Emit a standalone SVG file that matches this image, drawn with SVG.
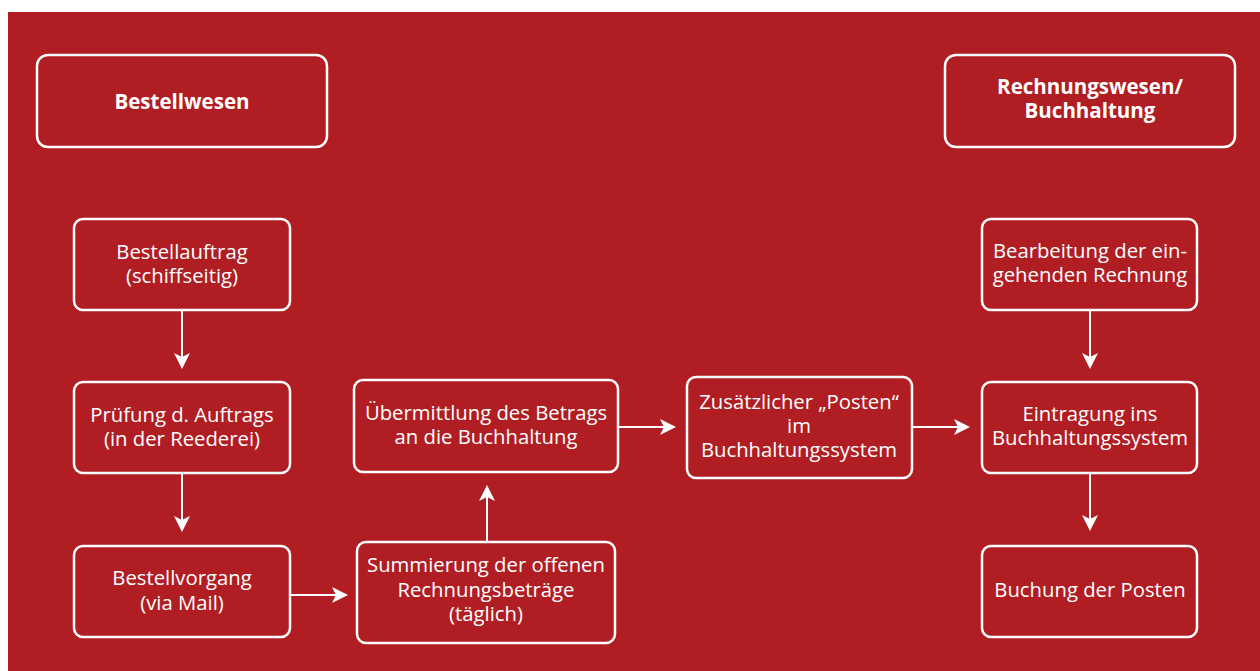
<svg xmlns="http://www.w3.org/2000/svg" width="1260" height="671" viewBox="0 0 1260 671">
<defs>
<style>
.box{fill:none;stroke:#ffffff;stroke-width:2.5}
.t{font-family:"Open Sans","Liberation Sans",sans-serif;font-size:20.3px;fill:#ffffff;text-anchor:middle}
.h{font-family:"Open Sans","Liberation Sans",sans-serif;font-size:20.5px;font-weight:bold;fill:#ffffff;text-anchor:middle}
.c{fill:none;stroke:#ffffff;stroke-width:2}
</style>
<marker id="ah" viewBox="0 0 16 16" refX="14" refY="8" markerWidth="16" markerHeight="16" markerUnits="userSpaceOnUse" orient="auto">
<path d="M0,0 L16,8 L0,16 L4,8 Z" fill="#ffffff"/>
</marker>
</defs>
<rect x="0" y="0" width="1260" height="671" fill="#ffffff"/>
<rect x="8" y="12" width="1252" height="659" fill="#b01e23"/>
<g id="bestellwesen"><rect class="box" x="37" y="55" width="290" height="92" rx="11"/><text class="h" x="182" y="109">Bestellwesen</text></g>
<g id="rechnungswesen"><rect class="box" x="945" y="55" width="290" height="92" rx="11"/><text class="h" x="1090" y="94">Rechnungswesen/</text><text class="h" x="1090" y="118">Buchhaltung</text></g>
<g id="bestellauftrag"><rect class="box" x="74" y="219" width="216" height="91" rx="9"/><text class="t" x="182" y="259">Bestellauftrag</text><text class="t" x="182" y="283">(schiffseitig)</text></g>
<g id="pruefung"><rect class="box" x="74" y="382" width="216" height="91" rx="9"/><text class="t" x="182" y="422">Prüfung d. Auftrags</text><text class="t" x="182" y="446">(in der Reederei)</text></g>
<g id="bestellvorgang"><rect class="box" x="74" y="546" width="216" height="91" rx="9"/><text class="t" x="182" y="585">Bestellvorgang</text><text class="t" x="182" y="610">(via Mail)</text></g>
<g id="summierung"><rect class="box" x="357" y="542" width="258" height="101" rx="9"/><text class="t" x="486" y="572">Summierung der offenen</text><text class="t" x="486" y="597">Rechnungsbeträge</text><text class="t" x="486" y="621">(täglich)</text></g>
<g id="uebermittlung"><rect class="box" x="354" y="380" width="264" height="92" rx="9"/><text class="t" x="486" y="420">Übermittlung des Betrags</text><text class="t" x="486" y="444">an die Buchhaltung</text></g>
<g id="zusaetzlicher"><rect class="box" x="687" y="377" width="225" height="101" rx="9"/><text class="t" x="799" y="409">Zusätzlicher „Posten“</text><text class="t" x="799" y="433">im</text><text class="t" x="799" y="457">Buchhaltungssystem</text></g>
<g id="bearbeitung"><rect class="box" x="982" y="219" width="215" height="91" rx="9"/><text class="t" x="1090" y="258">Bearbeitung der ein-</text><text class="t" x="1090" y="282">gehenden Rechnung</text></g>
<g id="eintragung"><rect class="box" x="982" y="382" width="215" height="91" rx="9"/><text class="t" x="1090" y="421">Eintragung ins</text><text class="t" x="1090" y="445">Buchhaltungssystem</text></g>
<g id="buchung"><rect class="box" x="982" y="546" width="215" height="91" rx="9"/><text class="t" x="1090" y="597">Buchung der Posten</text></g>
<g id="connectors">
<line class="c" x1="182" y1="311" x2="182" y2="367" marker-end="url(#ah)"/>
<line class="c" x1="182" y1="474" x2="182" y2="530" marker-end="url(#ah)"/>
<line class="c" x1="291" y1="595" x2="346" y2="595" marker-end="url(#ah)"/>
<line class="c" x1="487" y1="541" x2="487" y2="487" marker-end="url(#ah)"/>
<line class="c" x1="619" y1="427" x2="674" y2="427" marker-end="url(#ah)"/>
<line class="c" x1="913" y1="427" x2="968" y2="427" marker-end="url(#ah)"/>
<line class="c" x1="1090" y1="311" x2="1090" y2="367" marker-end="url(#ah)"/>
<line class="c" x1="1090" y1="474" x2="1090" y2="529" marker-end="url(#ah)"/>
</g>
</svg>
